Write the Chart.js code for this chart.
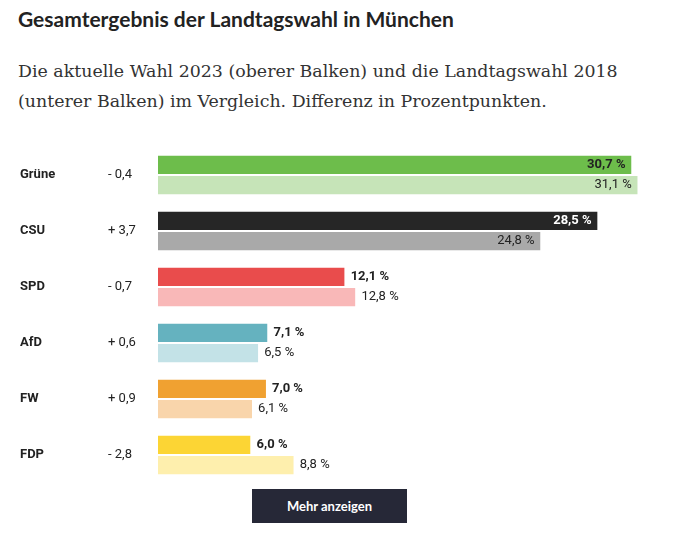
<!DOCTYPE html>
<html><head><meta charset="utf-8">
<script src="https://cdn.jsdelivr.net/npm/chart.js@4"></script>
<style>
body{margin:0;background:#fff;width:680px;height:549px;position:relative;overflow:hidden}
h1{position:absolute;left:18px;top:6px;margin:0;font:700 21px Lato,sans-serif;color:#222}
p{position:absolute;left:18px;top:56px;margin:0;font:17.4px "DejaVu Serif",serif;line-height:30px;color:#333;width:660px}
#wrap{position:absolute;left:0;top:147px;width:680px;height:336px}
button{position:absolute;left:252px;top:489px;width:155px;height:34px;background:#262837;color:#fff;border:0;font:700 13px Lato,sans-serif}
</style></head><body>
<h1>Gesamtergebnis der Landtagswahl in München</h1>
<p>Die aktuelle Wahl 2023 (oberer Balken) und die Landtagswahl 2018 (unterer Balken) im Vergleich. Differenz in Prozentpunkten.</p>
<div id="wrap"><canvas id="c"></canvas></div>
<button>Mehr anzeigen</button>
<script>
const parties = ['Grüne', 'CSU', 'SPD', 'AfD', 'FW', 'FDP'];
const diffs = ['- 0,4', '+ 3,7', '- 0,7', '+ 0,6', '+ 0,9', '- 2,8'];
const results2023 = [30.7, 28.5, 12.1, 7.1, 7.0, 6.0];
const results2018 = [31.1, 24.8, 12.8, 6.5, 6.1, 8.8];
const colors2023 = ['#6dbd4b', '#262626', '#e94c4c', '#65b2bf', '#f0a131', '#fcd534'];
const colors2018 = ['#c6e4b8', '#a9a9a9', '#f9b8b8', '#c3e2e7', '#f9d5ab', '#feefad'];

const fmt = v => v.toFixed(1).replace('.', ',') + ' %';

const labelPlugin = {
  id: 'labels',
  afterDatasetsDraw(chart) {
    const ctx = chart.ctx;
    const y = chart.scales.y;
    ctx.save();
    ctx.textBaseline = 'middle';
    parties.forEach((p, i) => {
      const cy = y.getPixelForValue(i);
      ctx.fillStyle = '#222';
      ctx.font = '700 13px Roboto, sans-serif';
      ctx.textAlign = 'left';
      ctx.fillText(p, 20, cy);
      ctx.font = '13px Roboto, sans-serif';
      ctx.fillText(diffs[i], 108, cy);
    });
    chart.data.datasets.forEach((ds, di) => {
      chart.getDatasetMeta(di).data.forEach((bar, i) => {
        const v = ds.data[i];
        ctx.font = (di === 0 ? '700 ' : '') + '13px Roboto, sans-serif';
        if (v > 20) {
          ctx.textAlign = 'right';
          ctx.fillStyle = (di === 0 && i === 1) ? '#fff' : '#222';
          ctx.fillText(fmt(v), bar.x - 6, bar.y);
        } else {
          ctx.textAlign = 'left';
          ctx.fillStyle = '#222';
          ctx.fillText(fmt(v), bar.x + 6, bar.y);
        }
      });
    });
    ctx.restore();
  }
};

new Chart(document.getElementById('c'), {
  type: 'bar',
  data: {
    labels: parties,
    datasets: [
      { label: '2023', data: results2023, backgroundColor: colors2023, borderColor: '#fff', borderWidth: { top: 1, bottom: 1 }, borderSkipped: false },
      { label: '2018', data: results2018, backgroundColor: colors2018, borderColor: '#fff', borderWidth: { top: 1, bottom: 1 }, borderSkipped: false }
    ]
  },
  options: {
    indexAxis: 'y',
    responsive: true,
    maintainAspectRatio: false,
    animation: false,
    layout: { padding: { left: 158, right: 13 } },
    categoryPercentage: 0.72,
    barPercentage: 1,
    scales: {
      x: { display: false, min: 0, max: 33 },
      y: { display: false }
    },
    plugins: { legend: { display: false }, tooltip: { enabled: false } }
  },
  plugins: [labelPlugin]
});
</script>
</body></html>
